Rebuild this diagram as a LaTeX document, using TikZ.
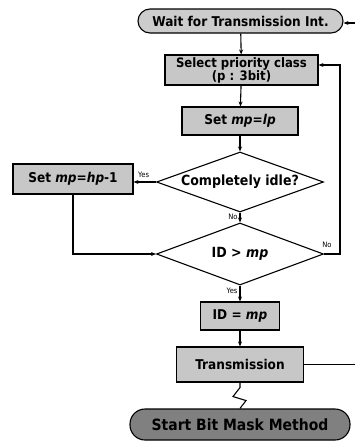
\documentclass[tikz,border=0pt]{standalone}
\usepackage{fontspec}
\setmainfont{DejaVu Sans Condensed}
\usetikzlibrary{shapes.geometric,arrows.meta}

\tikzset{
  arr/.style={-{Stealth[length=5pt,width=4pt]}},
  lbl/.style={font=\fontsize{7.5}{8}\selectfont, inner sep=0pt},
  procbox/.style={draw, line width=1.1pt, fill=black!22, inner sep=0pt,
    font=\fontsize{13.5}{14}\selectfont\bfseries, align=center},
  terminal/.style={draw, line width=1.1pt, rounded corners=12pt, inner sep=0pt,
    font=\fontsize{13.5}{14}\selectfont\bfseries},
  decision/.style={draw, line width=1.1pt, diamond, aspect=2.78, inner sep=0pt,
    minimum width=167pt, minimum height=60pt,
    font=\fontsize{14}{14}\selectfont\bfseries},
}

\begin{document}
\begin{tikzpicture}[x=1pt,y=-1pt,line width=1.1pt]
\useasboundingbox (0,0) rectangle (355,445);

% start and end terminals
\node[terminal, fill=black!20, minimum width=205pt, minimum height=24pt]
  (wait) at (240.5,21) {Wait for Transmission Int.};
\node[terminal, fill=black!50, rounded corners=15pt, minimum width=220pt,
  minimum height=31pt, font=\fontsize{15.5}{16}\selectfont\bfseries]
  (bm) at (240,424.5) {Start Bit Mask Method};

% process steps
\node[procbox, minimum width=153pt, minimum height=30pt,
  font=\fontsize{13}{13}\selectfont\bfseries] (sel) at (241.5,70)
  {Select priority class\\(p : 3bit)};
\node[procbox, minimum width=116pt, minimum height=28pt] (lp) at (240,121)
  {Set \textit{mp}=\textit{lp}};
\node[procbox, minimum width=120pt, minimum height=30pt] (hp) at (73,179)
  {Set \textit{mp}=\textit{hp}-1};
\node[procbox, minimum width=79pt, minimum height=28pt] (eq) at (240,316)
  {ID = \textit{mp}};
\node[procbox, minimum width=127pt, minimum height=35pt] (tx) at (240,364.5)
  {Transmission};

% decisions
\node[decision] (idle) at (240,182) {Completely idle?};
\node[decision, minimum height=62pt] (id) at (240,254) {ID > \textit{mp}};

% main column
\draw[arr] (wait) -- (sel);
\draw[arr] (sel) -- (lp);
\draw[arr] (lp) -- (idle);
\draw[arr] (idle) -- node[lbl, left=2pt, pos=0.4] {No} (id);
\draw[arr] (id) -- node[lbl, left=2pt, pos=0.35] {Yes} (eq);
\draw[arr] (eq) -- (tx);

% idle branch
\draw[arr] (idle.west) -- node[lbl, above=4pt, pos=0.55] {Yes} (idle.west -| hp.east);
\draw[arr] (hp.south) |- (id.west);

% retry loop back to priority selection
\coordinate (loop) at (340,254);
\draw[arr] (id.east) -- (loop) |- ([yshift=5pt]sel.east);
\node[lbl] at (327,245) {No};

% return path after transmission, running along the right edge
\coordinate (ret) at (355.8,364.5);
\draw[arr] (tx.east) -- (ret) |- ([yshift=-2pt]wait.east);

% jagged link to the bit mask method
\draw (tx.south) -- ++(0,5) -- ++(-7,9) -- ++(13,4) -- (bm.north);
\end{tikzpicture}
\end{document}
